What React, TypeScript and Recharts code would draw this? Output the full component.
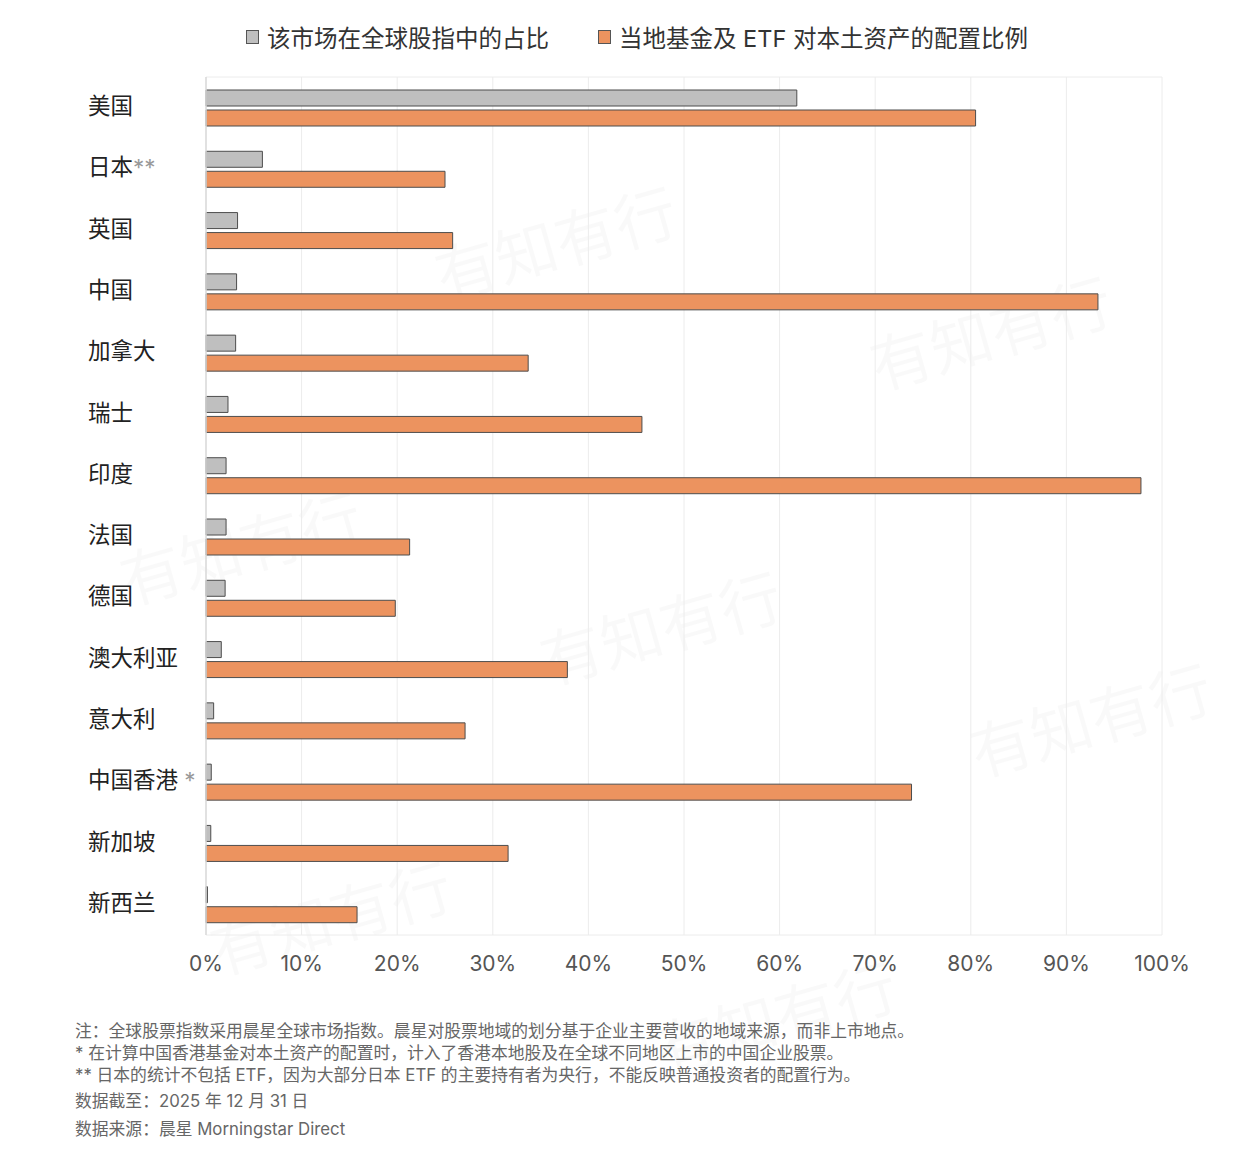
import React from "react";
import { Bar, BarChart, CartesianGrid, XAxis, YAxis } from "recharts";

const categories = [
  "美国",
  "日本",
  "英国",
  "中国",
  "加拿大",
  "瑞士",
  "印度",
  "法国",
  "德国",
  "澳大利亚",
  "意大利",
  "中国香港",
  "新加坡",
  "新西兰",
];

// footnote markers after some category names
const categoryMarks = ["", "**", "", "", "", "", "", "", "", "", "", " *", "", ""];

// share of the market in the global equity index (%)
const globalShare = [61.8, 5.9, 3.3, 3.2, 3.1, 2.3, 2.1, 2.1, 2.0, 1.6, 0.8, 0.55, 0.5, 0.15];

// local funds & ETF allocation to home assets (%)
const homeAllocation = [80.5, 25.0, 25.8, 93.3, 33.7, 45.6, 97.8, 21.3, 19.8, 37.8, 27.1, 73.8, 31.6, 15.8];

const xTicks = [0, 10, 20, 30, 40, 50, 60, 70, 80, 90, 100];

const legendLabels = ["该市场在全球股指中的占比", "当地基金及 ETF 对本土资产的配置比例"];

const footnotes = [
  "注：全球股票指数采用晨星全球市场指数。晨星对股票地域的划分基于企业主要营收的地域来源，而非上市地点。",
  "* 在计算中国香港基金对本土资产的配置时，计入了香港本地股及在全球不同地区上市的中国企业股票。",
  "** 日本的统计不包括 ETF，因为大部分日本 ETF 的主要持有者为央行，不能反映普通投资者的配置行为。",
  "数据截至：2025 年 12 月 31 日",
  "数据来源：晨星 Morningstar Direct",
];

const data = categories.map((name, i) => ({
  name,
  share: globalShare[i],
  home: homeAllocation[i],
}));

const FONT = "Inter, 'Noto Sans CJK SC', 'Noto Sans', sans-serif";
const GRAY = "#bfbfbf";
const ORANGE = "#ec935f";

// faint background watermark
const watermarkSpots = [
  [555, 235],
  [990, 325],
  [240, 540],
  [660, 620],
  [1090, 712],
  [330, 910],
  [775, 1010],
];

const CategoryTick = (props: any) => {
  const { y, payload } = props;
  const idx = categories.indexOf(payload.value);
  return (
    <text
      x={88}
      y={y - 2}
      dominantBaseline="central"
      fontSize={22.5}
      fill="#222"
      fontFamily={FONT}
    >
      {payload.value}
      {categoryMarks[idx] ? <tspan fill="#999">{categoryMarks[idx]}</tspan> : null}
    </text>
  );
};

const LegendItem = ({ color, label, left }: { color: string; label: string; left: number }) => (
  <div
    style={{
      position: "absolute",
      left,
      top: 20,
      display: "flex",
      alignItems: "center",
      fontSize: 23.5,
      color: "#333",
      whiteSpace: "nowrap",
    }}
  >
    <span
      style={{
        display: "inline-block",
        width: 11,
        height: 12,
        background: color,
        border: "1px solid #555",
        marginRight: 8,
      }}
    />
    {label}
  </div>
);

export default function App() {
  return (
    <div
      style={{
        position: "absolute",
        left: 0,
        top: 0,
        width: 1246,
        height: 1164,
        background: "#fff",
        fontFamily: FONT,
        overflow: "hidden",
      }}
    >
      {watermarkSpots.map(([x, y], i) => (
        <div
          key={i}
          style={{
            position: "absolute",
            left: x - 130,
            top: y - 40,
            width: 260,
            textAlign: "center",
            fontSize: 62,
            color: "rgba(0,0,0,0.025)",
            transform: "rotate(-16deg)",
            fontFamily: "'Noto Sans CJK SC', serif",
            whiteSpace: "nowrap",
            pointerEvents: "none",
          }}
        >
          有知有行
        </div>
      ))}

      <LegendItem color={GRAY} label={legendLabels[0]} left={246} />
      <LegendItem color={ORANGE} label={legendLabels[1]} left={598} />

      <div style={{ position: "absolute", left: 0, top: 0 }}>
        <BarChart
          width={1246}
          height={1000}
          data={data}
          layout="vertical"
          margin={{ top: 77, right: 84, bottom: 20, left: 0 }}
          barSize={16}
          barGap={4}
        >
          <CartesianGrid
            stroke="#ececec"
            verticalFill={[]}
            horizontalCoordinatesGenerator={({ offset }: any) => [
              offset.top,
              offset.top + offset.height,
            ]}
          />
          <XAxis
            type="number"
            domain={[0, 100]}
            ticks={xTicks}
            tickFormatter={(v) => `${v}%`}
            axisLine={false}
            tickLine={false}
            tickMargin={15}
            height={45}
            tick={{ fontSize: 21, fill: "#555", fontFamily: FONT }}
          />
          <YAxis
            type="category"
            dataKey="name"
            width={206}
            axisLine={{ stroke: "#dadada", strokeWidth: 1.5 }}
            tickLine={false}
            tick={<CategoryTick />}
            interval={0}
          />
          <Bar
            dataKey="share"
            fill={GRAY}
            stroke="#4d4d4d"
            strokeWidth={1}
            isAnimationActive={false}
          />
          <Bar
            dataKey="home"
            fill={ORANGE}
            stroke="#4d4d4d"
            strokeWidth={1}
            isAnimationActive={false}
          />
        </BarChart>
      </div>

      <div
        style={{
          position: "absolute",
          left: 75,
          top: 1020,
          fontSize: 16.8,
          color: "#666",
          lineHeight: "22px",
        }}
      >
        {footnotes.map((t, i) => (
          <div key={i} style={{ marginTop: i === 3 ? 4 : i === 4 ? 6 : 0, whiteSpace: "nowrap" }}>
            {t}
          </div>
        ))}
      </div>
    </div>
  );
}
